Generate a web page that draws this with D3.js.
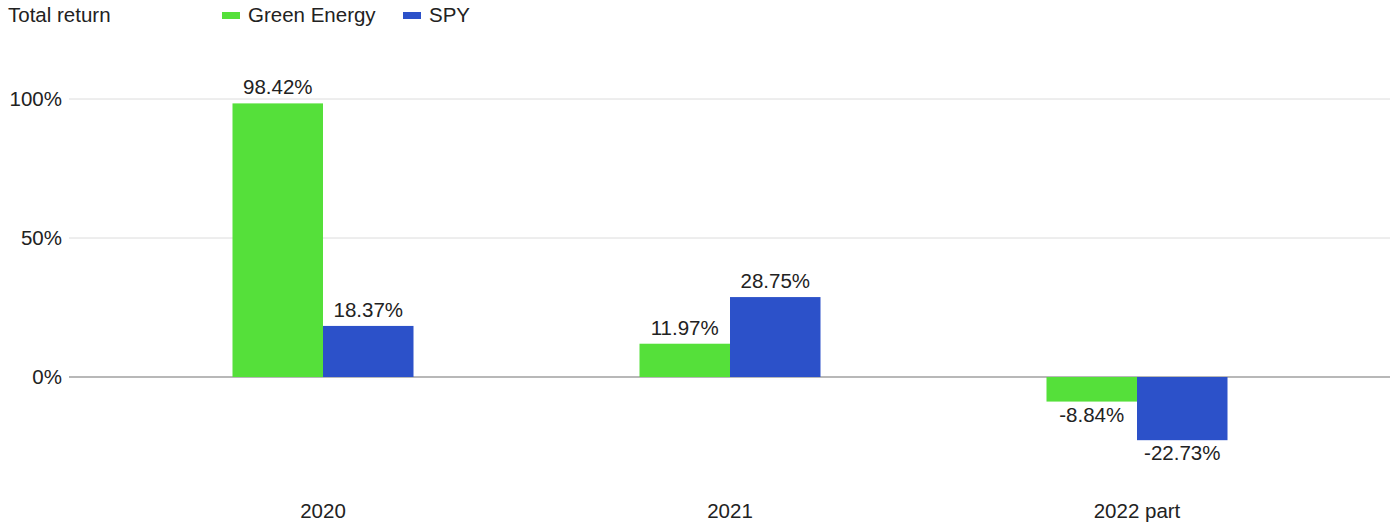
<!DOCTYPE html>
<html>
<head>
<meta charset="utf-8">
<script src="https://cdn.jsdelivr.net/npm/d3@7"></script>
<style>
  body { margin: 0; background: #fff; }
  text { font-family: "Liberation Sans", Arial, sans-serif; fill: #222; font-size: 20.5px; }
</style>
</head>
<body>
<div id="chart"></div>
<script>
// data
const categories = ["2020", "2021", "2022 part"];
const seriesNames = ["Green Energy", "SPY"];
const greenEnergy = [98.42, 11.97, -8.84];
const spy = [18.37, 28.75, -22.73];
const yTicks = [0, 50, 100];
const colors = ["#55e03a", "#2c51c9"];

const width = 1392, height = 523;

const rows = categories.map((c, i) => ({cat: c, vals: [greenEnergy[i], spy[i]]}));

const svg = d3.select("#chart").append("svg")
  .attr("width", width).attr("height", height);

// scales
const x = d3.scaleBand().domain(categories).range([119.5, 1340.5]).padding(0);
const x1 = d3.scaleBand().domain(seriesNames).range([0, 181]);
const y = d3.scaleLinear().domain([0, 100]).range([377, 99]);

// gridlines
svg.append("g").selectAll("line").data(yTicks).join("line")
  .attr("x1", 69).attr("x2", 1390)
  .attr("y1", d => y(d)).attr("y2", d => y(d))
  .attr("stroke", d => d === 0 ? "#a0a0a0" : "#dcdcdc")
  .attr("stroke-width", d => d === 0 ? 1.5 : 1);

// y tick labels
svg.append("g").selectAll("text").data(yTicks).join("text")
  .attr("x", 62).attr("y", d => y(d) + 7)
  .attr("text-anchor", "end")
  .text(d => d + "%");

// bars
const groups = svg.append("g").selectAll("g").data(rows).join("g")
  .attr("transform", d => `translate(${x(d.cat) + x.bandwidth() / 2 - 90.5},0)`);

groups.selectAll("rect").data(d => d.vals.map((v, j) => ({v, s: seriesNames[j], j})))
  .join("rect")
  .attr("x", d => x1(d.s))
  .attr("width", x1.bandwidth())
  .attr("y", d => Math.min(y(d.v), y(0)))
  .attr("height", d => Math.abs(y(d.v) - y(0)))
  .attr("fill", d => colors[d.j]);

groups.selectAll("text").data(d => d.vals.map((v, j) => ({v, s: seriesNames[j], j})))
  .join("text")
  .attr("x", d => x1(d.s) + x1.bandwidth() / 2)
  .attr("y", d => d.v >= 0 ? y(d.v) - 9 : y(d.v) + 20)
  .attr("text-anchor", "middle")
  .text(d => d.v.toFixed(2) + "%");

// x axis labels
svg.append("g").selectAll("text").data(categories).join("text")
  .attr("x", d => x(d) + x.bandwidth() / 2)
  .attr("y", 518)
  .attr("text-anchor", "middle")
  .text(d => d);

// title
svg.append("text").attr("x", 8).attr("y", 22).text("Total return");

// legend
const legendX = [222, 403];
const legend = svg.append("g").selectAll("g").data(seriesNames).join("g")
  .attr("transform", (d, i) => `translate(${legendX[i]},0)`);
legend.append("rect").attr("x", 0).attr("y", 12).attr("width", 18).attr("height", 7)
  .attr("fill", (d, i) => colors[i]);
legend.append("text").attr("x", 26).attr("y", 22).text(d => d);
</script>
</body>
</html>
